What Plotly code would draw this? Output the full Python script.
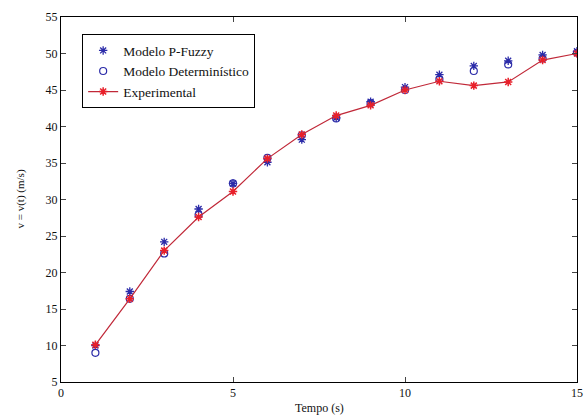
import plotly.graph_objects as go

tempo = [1, 2, 3, 4, 5, 6, 7, 8, 9, 10, 11, 12, 13, 14, 15]
fuzzy = [10.0, 17.4, 24.2, 28.7, 32.2, 35.1, 38.2, 41.2, 43.4, 45.4, 47.1, 48.3, 49.0, 49.8, 50.3]
determ = [9.0, 16.4, 22.6, 27.9, 32.2, 35.7, 38.8, 41.1, 43.2, 45.0, 46.5, 47.6, 48.5, 49.3, 50.1]
experimental = [10.1, 16.4, 23.0, 27.6, 31.1, 35.6, 38.9, 41.5, 42.9, 45.0, 46.2, 45.6, 46.1, 49.1, 50.0]

x_ticks = [0, 5, 10, 15]
y_ticks = [5, 10, 15, 20, 25, 30, 35, 40, 45, 50, 55]

blue = "#2b2ba8"
red = "#e8202a"
serif = "Liberation Serif, serif"

fig = go.Figure()
fig.add_trace(go.Scatter(
    x=tempo, y=fuzzy, mode="markers", name="Modelo P-Fuzzy",
    marker=dict(symbol="asterisk-open", size=7, color=blue, line=dict(color=blue, width=1.3))))
fig.add_trace(go.Scatter(
    x=tempo, y=determ, mode="markers", name="Modelo Determinístico",
    marker=dict(symbol="circle-open", size=7, color=blue, line=dict(color=blue, width=1.2))))
fig.add_trace(go.Scatter(
    x=tempo, y=experimental, mode="lines+markers", name="Experimental",
    line=dict(color="#c02838", width=1.2),
    marker=dict(symbol="asterisk-open", size=7, color=red, line=dict(color=red, width=1.5))))

fig.update_layout(
    width=585, height=416,
    margin=dict(l=61, r=8, t=17, b=34),
    paper_bgcolor="white", plot_bgcolor="white",
    font=dict(family=serif, size=12, color="#111"),
    showlegend=True,
    legend=dict(x=0.041, y=0.953, xanchor="left", yanchor="top",
                bgcolor="white", bordercolor="black", borderwidth=1,
                font=dict(family=serif, size=13.5, color="#111"),
                tracegroupgap=0),
    xaxis=dict(range=[0, 15], tickvals=x_ticks, ticks="inside", ticklen=5,
               tickfont=dict(family=serif, size=12, color="#111"),
               showline=True, linecolor="black", linewidth=1, mirror="ticks",
               showgrid=False, zeroline=False, automargin=False),
    yaxis=dict(range=[5, 55], tickvals=y_ticks, ticks="inside", ticklen=5,
               tickfont=dict(family=serif, size=12, color="#111"),
               showline=True, linecolor="black", linewidth=1, mirror="ticks",
               showgrid=False, zeroline=False, automargin=False),
    annotations=[
        dict(text="Tempo (s)", xref="paper", yref="paper", x=0.5, y=0,
             xanchor="center", yanchor="top", yshift=-17, showarrow=False,
             font=dict(family=serif, size=12, color="#111")),
        dict(text="v = v(t) (m/s)", xref="paper", yref="paper", x=0, y=0.5,
             xanchor="center", yanchor="middle", xshift=-41, textangle=-90,
             showarrow=False, font=dict(family=serif, size=11, color="#111")),
    ],
)

fig.write_html("out.html", config={"displayModeBar": False},
               post_script="document.body.style.margin='0';")
